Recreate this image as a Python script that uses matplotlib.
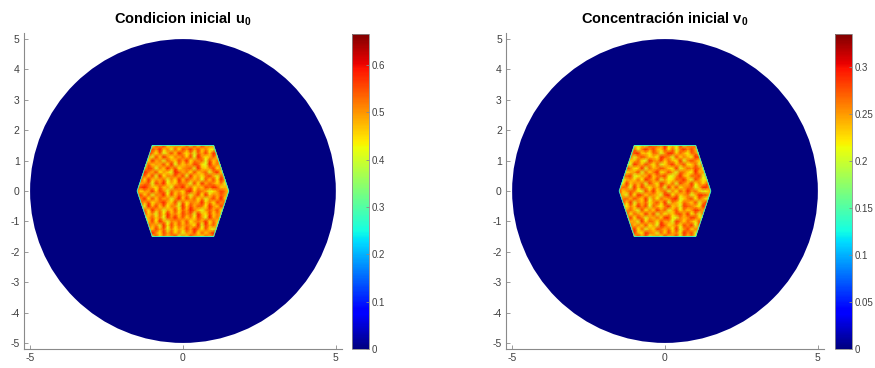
import matplotlib
matplotlib.use("Agg")
import matplotlib.pyplot as plt
import numpy as np
from matplotlib.patches import Circle, Polygon

plt.rcParams['font.family'] = ['Liberation Sans', 'DejaVu Sans']
plt.rcParams['mathtext.fontset'] = 'custom'
plt.rcParams['mathtext.rm'] = 'Liberation Sans'
plt.rcParams['mathtext.bf'] = 'Liberation Sans:bold'
plt.rcParams['axes.unicode_minus'] = False

# domain: disk of radius 5, hexagonal initial patch in the centre
disk_radius = 5.0
hex_x = [1.5, 1.0, -1.0, -1.5, -1.0, 1.0]
hex_y = [0.0, 1.5, 1.5, 0.0, -1.5, -1.5]

# values inside the hexagon, read as levels 0..9 on a 25x25 grid over [-1.5, 1.5]
u_rows = [
    "5468273645916384527463859",
    "4736952847361548273694527",
    "6295384716253849627315846",
    "3857461928374652918473562",
    "7463829516473825649273815",
    "5924736185947362851946273",
    "4683517294638571942836475",
    "8372946153827496315748259",
    "5619483726519384762953841",
    "3748256943817265493628574",
    "6592837461593847261584937",
    "4837165928374615829364751",
    "7254938617452893764125863",
    "5896427351869472538697342",
    "3467185924376518294753618",
    "6829354716293854617382945",
    "4573819265748193526841736",
    "7396482531974628357169284",
    "5248716394825671943582617",
    "6917354829163548721946358",
    "3582946175384926571836492",
    "7465183952647381952473865",
    "4839627148395261748395127",
    "5724859361728594836217549",
    "6358174925463718294657381",
]
v_rows = [
    "4926385714629358174625938",
    "7153842965173846295817364",
    "3684927153864729158364729",
    "5917463825197346285917463",
    "8264519376284519637428156",
    "4739286154739821645973218",
    "6182753948162537849261735",
    "3957418263957148263597481",
    "7426395817426935187642953",
    "5839164725839164275381694",
    "2674853916274589136827415",
    "6418297365418927356149872",
    "9357621849357162849573126",
    "4761938526471938256714983",
    "5293647185296371854926371",
    "8145372964815237694185237",
    "3678125493678215943768154",
    "6924581736924851763294518",
    "4586239174586329147586293",
    "7231964852713694582371946",
    "5863472196583742916853472",
    "2497158634297518364297185",
    "6715893427615983742761598",
    "4382716958438271695843271",
    "7659324186759342816576934",
]
u_low, u_step, u_max = 0.39, 0.022, 0.665
v_low, v_step, v_max = 0.195, 0.011, 0.335

u_ticks = [0, 0.1, 0.2, 0.3, 0.4, 0.5, 0.6]
v_ticks = [0, 0.05, 0.1, 0.15, 0.2, 0.25, 0.3]
axis_ticks_x = [-5, 0, 5]
axis_ticks_y = [-5, -4, -3, -2, -1, 0, 1, 2, 3, 4, 5]

titles = [r'Condicion inicial u$_{\mathbf{0}}$', r'Concentración inicial v$_{\mathbf{0}}$']

grid = np.linspace(-1.5, 1.5, len(u_rows))
gx, gy = np.meshgrid(grid, grid)
U = u_low + u_step * np.array([[int(c) for c in r] for r in u_rows])
V = v_low + v_step * np.array([[int(c) for c in r] for r in v_rows])

fig = plt.figure(figsize=(8.75, 3.68), dpi=100)
cmap = plt.get_cmap('jet')
grey = '#8a8a8a'

ax_pos = [[0.0274, 0.0516, 0.3634, 0.8587], [0.5783, 0.0516, 0.3634, 0.8587]]
cb_pos = [[0.4023, 0.0516, 0.0194, 0.856], [0.9543, 0.0516, 0.0194, 0.856]]

for k, (Z, zmax, cticks) in enumerate([(U, u_max, u_ticks), (V, v_max, v_ticks)]):
    ax = fig.add_axes(ax_pos[k])
    ax.add_patch(Circle((0, 0), disk_radius, facecolor=cmap(0.0), edgecolor='none'))
    hexagon = Polygon(np.column_stack([hex_x, hex_y]), closed=True, transform=ax.transData)
    mesh = ax.pcolormesh(gx, gy, Z, shading='gouraud', cmap=cmap, vmin=0, vmax=zmax)
    mesh.set_clip_path(hexagon)
    ax.add_patch(Polygon(np.column_stack([hex_x, hex_y]), closed=True, fill=False,
                         edgecolor=cmap(0.4), linewidth=0.6))
    ax.set_xlim(-5.2, 5.2)
    ax.set_ylim(-5.2, 5.2)
    ax.set_xticks(axis_ticks_x)
    ax.set_yticks(axis_ticks_y)
    ax.spines['top'].set_visible(False)
    ax.spines['right'].set_visible(False)
    for s in ['left', 'bottom']:
        ax.spines[s].set_color(grey)
        ax.spines[s].set_linewidth(0.8)
    ax.tick_params(direction='in', length=3, width=0.6, color=grey,
                   labelsize=7.5, labelcolor='#404040', pad=3)
    ax.set_title(titles[k], fontsize=10.5, fontweight='bold', pad=7)

    cax = fig.add_axes(cb_pos[k])
    cb = fig.colorbar(mesh, cax=cax, ticks=cticks)
    cb.ax.set_yticklabels([('%g' % t) for t in cticks])
    cb.outline.set_edgecolor(grey)
    cb.outline.set_linewidth(0.6)
    cb.ax.tick_params(direction='in', length=2.5, width=0.6, color=grey,
                      labelsize=7, labelcolor='#404040', pad=2)

fig.savefig('out.png', dpi=100)
